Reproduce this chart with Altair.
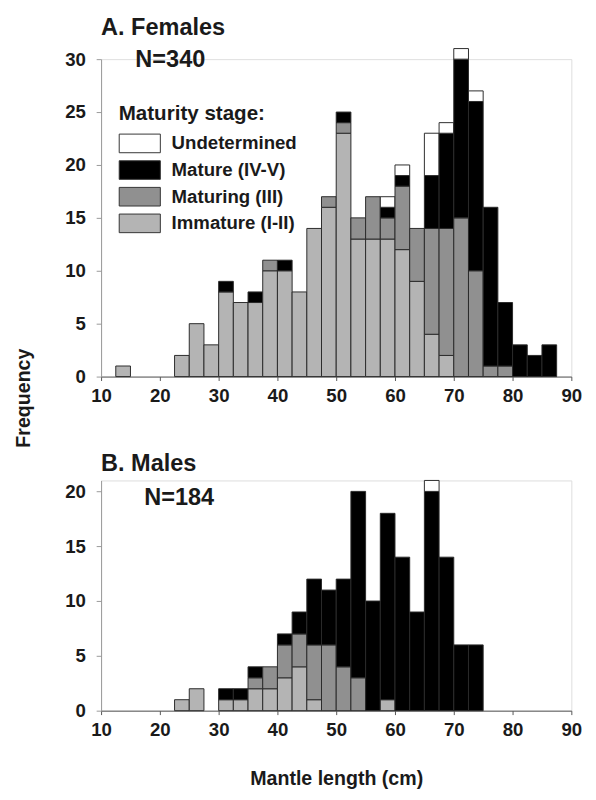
import altair as alt
import pandas as pd

# ---- data (2.5 cm mantle-length bins, bin start values) ----
bin_start = [10.0, 12.5, 15.0, 17.5, 20.0, 22.5, 25.0, 27.5, 30.0, 32.5, 35.0, 37.5,
             40.0, 42.5, 45.0, 47.5, 50.0, 52.5, 55.0, 57.5, 60.0, 62.5, 65.0, 67.5,
             70.0, 72.5, 75.0, 77.5, 80.0, 82.5, 85.0, 87.5]
bin_width = 2.5

stages = ["Immature (I-II)", "Maturing (III)", "Mature (IV-V)", "Undetermined"]
legend_order = ["Undetermined", "Mature (IV-V)", "Maturing (III)", "Immature (I-II)"]
legend_colors = ["#ffffff", "#000000", "#909090", "#b4b4b4"]

# Females (N=340)
f_immature = [0, 1, 0, 0, 0, 2, 5, 3, 8, 7, 7, 10, 10, 8, 14, 16, 23, 13, 13, 13, 12, 9, 4, 2, 0, 0, 0, 0, 0, 0, 0, 0]
f_maturing = [0, 0, 0, 0, 0, 0, 0, 0, 0, 0, 0, 1, 0, 0, 0, 1, 1, 2, 4, 2, 6, 5, 10, 12, 15, 10, 1, 1, 0, 0, 0, 0]
f_mature   = [0, 0, 0, 0, 0, 0, 0, 0, 1, 0, 1, 0, 1, 0, 0, 0, 1, 0, 0, 1, 1, 0, 5, 9, 15, 16, 15, 6, 3, 2, 3, 0]
f_undet    = [0, 0, 0, 0, 0, 0, 0, 0, 0, 0, 0, 0, 0, 0, 0, 0, 0, 0, 0, 1, 1, 0, 4, 1, 1, 1, 0, 0, 0, 0, 0, 0]

# Males (N=184)
m_immature = [0, 0, 0, 0, 0, 1, 2, 0, 1, 1, 2, 2, 3, 4, 1, 0, 0, 0, 0, 1, 0, 0, 0, 0, 0, 0, 0, 0, 0, 0, 0, 0]
m_maturing = [0, 0, 0, 0, 0, 0, 0, 0, 0, 0, 1, 2, 3, 3, 5, 6, 4, 3, 0, 0, 0, 0, 0, 0, 0, 0, 0, 0, 0, 0, 0, 0]
m_mature   = [0, 0, 0, 0, 0, 0, 0, 0, 1, 1, 1, 0, 1, 2, 6, 5, 8, 17, 10, 17, 14, 9, 20, 14, 6, 6, 0, 0, 0, 0, 0, 0]
m_undet    = [0, 0, 0, 0, 0, 0, 0, 0, 0, 0, 0, 0, 0, 0, 0, 0, 0, 0, 0, 0, 0, 0, 1, 0, 0, 0, 0, 0, 0, 0, 0, 0]

x_ticks = [10, 20, 30, 40, 50, 60, 70, 80, 90]

FONT = "Liberation Sans"
TXT = "#1a1a1a"


def stacked(series):
    rows = []
    for i, s in enumerate(bin_start):
        base = 0
        for stage, arr in zip(stages, series):
            v = arr[i]
            if v > 0:
                rows.append(dict(start=s, end=s + bin_width, y0=base, y1=base + v,
                                 stage=stage, count=v))
                base += v
    return pd.DataFrame(rows)


df_f = stacked([f_immature, f_maturing, f_mature, f_undet])
df_m = stacked([m_immature, m_maturing, m_mature, m_undet])

color_scale = alt.Scale(domain=legend_order, range=legend_colors)
x_scale = alt.Scale(domain=[10, 90], nice=False, zero=False)


def x_axis(title=None):
    kw = dict(values=x_ticks, grid=False, tickSize=4, labelPadding=6,
              labelFont=FONT, labelFontSize=19, labelFontWeight="bold", labelColor=TXT,
              domainColor="#555555", tickColor="#555555", labelFlush=False)
    if title:
        return alt.Axis(title=title, titleFont=FONT, titleFontSize=20, titleFontWeight="bold",
                        titleColor=TXT, titlePadding=30, **kw)
    return alt.Axis(title=None, **kw)


def y_axis(vals):
    return alt.Axis(values=vals, title=None, grid=False, tickSize=5, labelPadding=11,
                    labelFont=FONT, labelFontSize=19, labelFontWeight="bold", labelColor=TXT,
                    domainColor="#999999", tickColor="#999999")


def label(text, x, y, size, angle=0, align="left", baseline="alphabetic"):
    return alt.Chart(pd.DataFrame({"t": [text]})).mark_text(
        font=FONT, fontSize=size, fontWeight="bold", color=TXT, align=align,
        baseline=baseline, angle=angle
    ).encode(text="t:N", x=alt.value(x), y=alt.value(y))


legend = alt.Legend(
    title=None, orient="none", legendX=29.5, legendY=76,
    symbolType="M-2.21,-1H2.21V1H-2.21Z", symbolSize=361,
    symbolStrokeColor="#333333", symbolStrokeWidth=1, symbolOpacity=1,
    labelFont=FONT, labelFontSize=19, labelFontWeight="bold", labelColor=TXT,
    labelOffset=22.5, rowPadding=3.2,
)

bars_f = alt.Chart(df_f).mark_rect(stroke="#2a2a2a", strokeWidth=1).encode(
    x=alt.X("start:Q", scale=x_scale, axis=x_axis()),
    x2="end:Q",
    y=alt.Y("y0:Q", scale=alt.Scale(domain=[0, 30], nice=False), axis=y_axis([0, 5, 10, 15, 20, 25, 30])),
    y2="y1:Q",
    color=alt.Color("stage:N", scale=color_scale, legend=legend),
)

top = alt.layer(
    bars_f,
    label("A. Females", 0, -25, 24),
    label("N=340", 35, 8, 24),
    label("Maturity stage:", 18, 62, 21),
    label("Frequency", -79, 346, 20, angle=270, align="center", baseline="middle"),
).properties(width=480, height=324)

bars_m = alt.Chart(df_m).mark_rect(stroke="#2a2a2a", strokeWidth=1).encode(
    x=alt.X("start:Q", scale=x_scale, axis=x_axis("Mantle length (cm)")),
    x2="end:Q",
    y=alt.Y("y0:Q", scale=alt.Scale(domain=[0, 21], nice=False), axis=y_axis([0, 5, 10, 15, 20])),
    y2="y1:Q",
    color=alt.Color("stage:N", scale=color_scale, legend=None),
)

bottom = alt.layer(
    bars_m,
    label("B. Males", 0, -10, 24),
    label("N=184", 44, 25, 24),
).properties(width=480, height=235)

chart = alt.vconcat(top, bottom, spacing=106, bounds="flush").resolve_scale(
    color="independent", y="independent", x="independent"
).resolve_legend(color="independent").configure_view(stroke=None).properties(
    padding={"left": 5, "top": -1, "right": 5, "bottom": 5}
).configure(background="white")

chart.save("out.html", embed_options={"renderer": "svg", "actions": False})
